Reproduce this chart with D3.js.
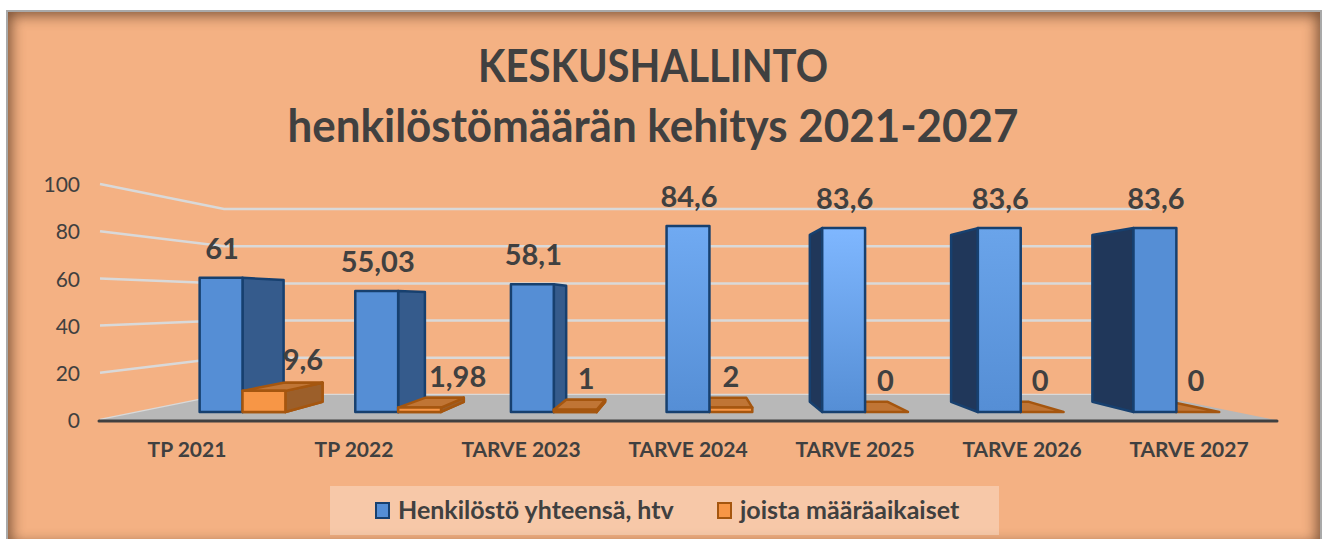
<!DOCTYPE html>
<html>
<head>
<meta charset="utf-8">
<title>Keskushallinto</title>
<script src="https://cdnjs.cloudflare.com/ajax/libs/d3/7.8.5/d3.min.js"></script>
<style>
html, body {margin: 0; padding: 0; background: #fff; overflow: hidden;}
#frame {position: absolute; left: 6px; top: 10px; width: 1312px; height: 535px; background: #f4b183;
  border: 2px solid #a9a9a9; box-shadow: inset 0 0 14px 3px rgba(80,50,30,.75);}
svg {position: absolute; left: 0; top: 0;}
text {font-family: Lato, "Noto Sans", sans-serif; fill: #404040;}
</style>
</head>
<body>
<div id="frame"></div>
<script>
var categories = ["TP 2021", "TP 2022", "TARVE 2023", "TARVE 2024", "TARVE 2025", "TARVE 2026", "TARVE 2027"];
var totalValues = [61, 55.03, 58.1, 84.6, 83.6, 83.6, 83.6];
var fixedTermValues = [9.6, 1.98, 1, 2, 0, 0, 0];
var totalLabels = ["61", "55,03", "58,1", "84,6", "83,6", "83,6", "83,6"];
var fixedTermLabels = ["9,6", "1,98", "1", "2", "0", "0", "0"];
var yTicks = [0, 20, 40, 60, 80, 100];
var titleLines = ["KESKUSHALLINTO", "henkilöstömäärän kehitys 2021-2027"];
var legendNames = ["Henkilöstö yhteensä, htv", "joista määräaikaiset"];

var width = 1323, height = 539;

// vanishing point of the fake 3d box, and depth factors
var vpX = 688, vpY = 302;
var kWall = 0.789, kBarFront = 0.932, kBarBack = 0.846;
var barWidth = 46;

// Excel puts the small labels oddly, these are nudges
var fixedLabelShift = [39, 38, 11, 0, -1, -2, -2];
// lighter top of the blue front face, only some bars have it
var blueTops = ["#558ed5", "#558ed5", "#558ed5", "#70aaf2", "#7fb7ff", "#6aa4ea", "#558ed5"];

var x = d3.scaleBand().domain(categories).range([103.5, 1272.5]);
var y = d3.scaleLinear().domain([0, 100]).range([420, 184]);

function project(px, py, k) {
  return [vpX + (px - vpX) * k, vpY + (py - vpY) * k];
}
function poly(pts) {
  return "M" + pts.map(function(p) { return p[0] + "," + p[1]; }).join("L") + "Z";
}

var svg = d3.select("body").append("svg")
  .attr("width", width)
  .attr("height", height);

var defs = svg.append("defs");
blueTops.forEach(function(c, i) {
  var g = defs.append("linearGradient").attr("id", "blue" + i)
    .attr("x1", 0).attr("y1", 0).attr("x2", 0).attr("y2", 1);
  g.append("stop").attr("offset", "0%").attr("stop-color", c);
  g.append("stop").attr("offset", "100%").attr("stop-color", "#558ed5");
});

// title
var titleWidths = [350, 731];
svg.selectAll(".title").data(titleLines).enter().append("text")
  .attr("class", "title")
  .attr("x", 653)
  .attr("y", function(d, i) { return 82 + i * 60; })
  .attr("text-anchor", "middle")
  .attr("textLength", function(d, i) { return titleWidths[i]; })
  .attr("lengthAdjust", "spacingAndGlyphs")
  .style("font-size", "45px")
  .style("font-weight", 700)
  .text(function(d) { return d; });

// gridlines on back wall and left wall
var frontLeft = 100, frontRight = 1276;
svg.selectAll(".grid").data(yTicks).enter().append("path")
  .attr("class", "grid")
  .attr("fill", "none")
  .attr("stroke", "#d9d9d9")
  .attr("stroke-width", 2.5)
  .attr("d", function(d) {
    var a = [frontLeft, y(d)];
    var b = project(frontLeft, y(d), kWall);
    var c = project(frontRight, y(d), kWall);
    return d3.line()([a, b, c]);
  });

// floor
svg.append("path")
  .attr("fill", "#b8b8b8")
  .attr("d", poly([[frontLeft, y(0)], project(frontLeft, y(0), kWall), project(frontRight, y(0), kWall), [frontRight, y(0)]]));

// bars
function drawBox(g, x0, x1, value, front, top, side) {
  var yTop = y(value), yBase = y(0);
  var stroke = side.stroke;
  function face(pts, fill) {
    g.append("path").attr("d", poly(pts)).attr("fill", fill)
      .attr("stroke", stroke).attr("stroke-width", side.width).attr("stroke-linejoin", "round");
  }
  // which side can be seen depends on where the box is against the vanishing point
  if (x1 < vpX) {
    face([project(x1, yTop, kBarFront), project(x1, yTop, kBarBack), project(x1, yBase, kBarBack), project(x1, yBase, kBarFront)], side.right);
  } else if (x0 > vpX) {
    face([project(x0, yTop, kBarFront), project(x0, yTop, kBarBack), project(x0, yBase, kBarBack), project(x0, yBase, kBarFront)], side.left);
  }
  if (yTop > vpY && top) {
    face([project(x0, yTop, kBarFront), project(x1, yTop, kBarFront), project(x1, yTop, kBarBack), project(x0, yTop, kBarBack)], top);
  }
  if (value > 0) {
    face([project(x0, yTop, kBarFront), project(x1, yTop, kBarFront), project(x1, yBase, kBarFront), project(x0, yBase, kBarFront)], front);
  }
}

var blueSide = {stroke: "#17406f", width: 2.5, right: "#355b8c", left: "#20375a"};
var orangeSide = {stroke: "#a5560f", width: 2.5, right: "#9c5f2a", left: "#9c5f2a"};
var bars = svg.append("g");

// orange first so the blue bars sit over their side faces
categories.forEach(function(cat, i) {
  var c = x(cat) + x.bandwidth() / 2;
  var g = bars.append("g");
  drawBox(g, c + barWidth / 2, c + barWidth * 1.5, fixedTermValues[i], "#f79646", "#c07535", orangeSide);
});
categories.forEach(function(cat, i) {
  var c = x(cat) + x.bandwidth() / 2;
  var g = bars.append("g");
  drawBox(g, c - barWidth / 2, c + barWidth / 2, totalValues[i], "url(#blue" + i + ")", null, blueSide);
});
// the orange slab lies in front of the blue side face on the left half
categories.forEach(function(cat, i) {
  var c = x(cat) + x.bandwidth() / 2;
  if (c + barWidth / 2 >= vpX) return;
  var g = bars.append("g");
  drawBox(g, c + barWidth / 2, c + barWidth * 1.5, fixedTermValues[i], "#f79646", "#c07535", orangeSide);
});

// data labels
var labels = svg.append("g").style("font-size", "29px").style("font-weight", 700).attr("text-anchor", "middle");
categories.forEach(function(cat, i) {
  var c = x(cat) + x.bandwidth() / 2;
  var pTotal = project(c, y(totalValues[i]), kBarFront);
  labels.append("text").attr("x", pTotal[0] + 1).attr("y", pTotal[1] - 29).attr("dy", ".35em").text(totalLabels[i]);
  var pFixed = project(c + barWidth, y(fixedTermValues[i]), kBarFront);
  labels.append("text").attr("x", pFixed[0] + fixedLabelShift[i]).attr("y", pFixed[1] - 31).attr("dy", ".35em").text(fixedTermLabels[i]);
});

// axes
var yAxis = svg.append("g")
  .attr("transform", "translate(88,1)")
  .call(d3.axisLeft(y).tickValues(yTicks).tickSize(0).tickPadding(8));
yAxis.select(".domain").remove();
yAxis.selectAll("text").style("font-size", "21px").style("font-family", "Lato, sans-serif").attr("fill", "#404040");

var xAxis = svg.append("g")
  .attr("transform", "translate(0,421)")
  .call(d3.axisBottom(x).tickSize(0).tickPadding(21));
xAxis.select(".domain").remove();
xAxis.selectAll("text").style("font-size", "21px").style("font-weight", 700).style("font-family", "Lato, sans-serif").attr("fill", "#404040");

svg.append("line")
  .attr("x1", 99).attr("x2", 1277).attr("y1", 421).attr("y2", 421)
  .attr("stroke", "#404040").attr("stroke-width", 3).attr("stroke-linecap", "round");

// legend
svg.append("rect").attr("x", 330).attr("y", 486).attr("width", 669).attr("height", 49)
  .attr("fill", "#fff").attr("fill-opacity", 0.3);
var legendX = [376, 718];
var legendFill = ["#558ed5", "#f79646"];
var legendStroke = ["#17406f", "#a5560f"];
legendNames.forEach(function(name, i) {
  svg.append("rect").attr("x", legendX[i]).attr("y", 503).attr("width", 13).attr("height", 15)
    .attr("fill", legendFill[i]).attr("stroke", legendStroke[i]).attr("stroke-width", 2);
  svg.append("text").attr("x", legendX[i] + 22).attr("y", 519)
    .style("font-size", "25px").style("font-weight", 700).text(name);
});
</script>
</body>
</html>
